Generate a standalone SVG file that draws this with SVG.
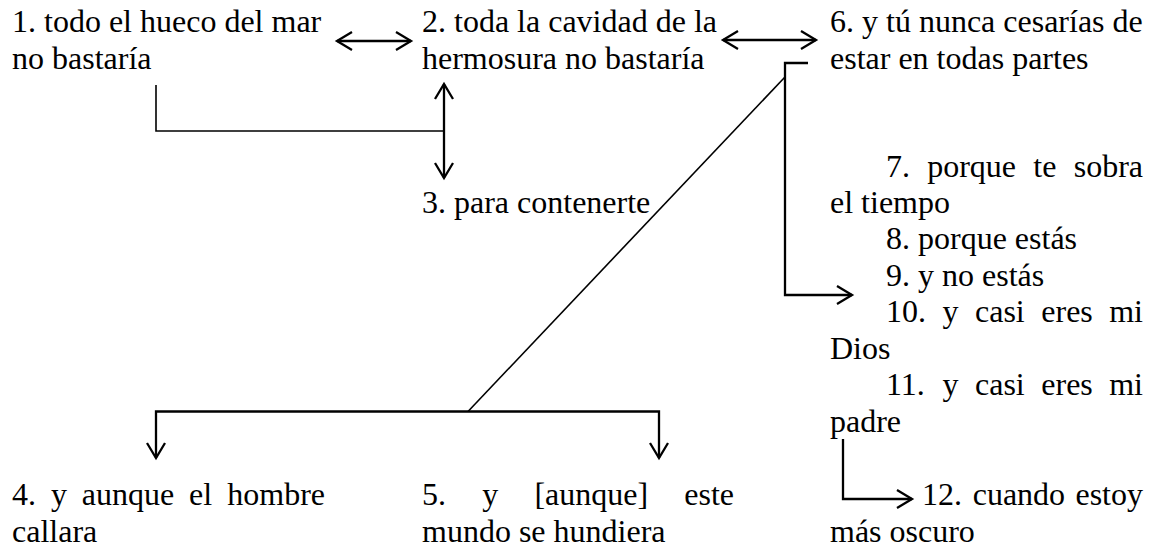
<svg xmlns="http://www.w3.org/2000/svg" width="1155" height="549" viewBox="0 0 1155 549">
<style>
text { font-family: "Liberation Serif", "Times New Roman", serif; font-size: 32px; fill: #000; }
.end { text-anchor: end; }
.thin { fill: none; stroke: #000; stroke-width: 1.6; }
.arr { fill: none; stroke: #000; stroke-width: 2.3; }
</style>
<defs>
<marker id="ah" markerUnits="userSpaceOnUse" markerWidth="22" markerHeight="22" viewBox="0 0 22 22" refX="17" refY="11" orient="auto-start-reverse">
<path d="M2,2 L17,11 L2,20" fill="none" stroke="#000" stroke-width="2.3"/>
</marker>
</defs>
<rect width="1155" height="549" fill="#fff"/>

<g id="n1">
<text x="12" y="32">1. todo el hueco del mar</text>
<text x="12" y="68.5">no bastaría</text>
</g>
<g id="n2">
<text x="422" y="32">2. toda la cavidad de la</text>
<text x="422" y="68.5">hermosura no bastaría</text>
</g>
<g id="n3">
<text x="422" y="213">3. para contenerte</text>
</g>
<g id="n4">
<text x="12" y="505">4.</text><text x="50.9" y="505">y</text><text x="81.8" y="505">aunque</text><text x="189.1" y="505">el</text><text class="end" x="325" y="505">hombre</text>
<text x="12" y="541.5">callara</text>
</g>
<g id="n5">
<text x="422" y="505">5.</text><text x="482.2" y="505">y</text><text x="534.4" y="505">[aunque]</text><text class="end" x="734" y="505">este</text>
<text x="422" y="541.5">mundo se hundiera</text>
</g>
<g id="n6">
<text x="830" y="32">6. y tú nunca cesarías de</text>
<text x="830" y="68.5">estar en todas partes</text>
</g>
<g id="n7-11">
<text x="886" y="176.5">7.</text><text x="927.2" y="176.5">porque</text><text x="1033.3" y="176.5">te</text><text class="end" x="1143" y="176.5">sobra</text>
<text x="830" y="213">el tiempo</text>
<text x="886" y="249">8. porque estás</text>
<text x="886" y="285.5">9. y no estás</text>
<text x="886" y="322">10.</text><text x="942.5" y="322">y</text><text x="975" y="322">casi</text><text x="1041.3" y="322">eres</text><text class="end" x="1143" y="322">mi</text>
<text x="830" y="358.5">Dios</text>
<text x="886" y="395">11.</text><text x="942.5" y="395">y</text><text x="975" y="395">casi</text><text x="1041.3" y="395">eres</text><text class="end" x="1143" y="395">mi</text>
<text x="830" y="431.5">padre</text>
</g>
<g id="n12">
<text x="922" y="505">12.</text><text x="972.7" y="505">cuando</text><text class="end" x="1143" y="505">estoy</text>
<text x="830" y="541.5">más oscuro</text>
</g>

<g id="connectors">
<line class="arr" x1="337" y1="41" x2="411" y2="41" marker-start="url(#ah)" marker-end="url(#ah)"/>
<line class="arr" x1="723" y1="40" x2="816" y2="40" marker-start="url(#ah)" marker-end="url(#ah)"/>
<polyline class="thin" points="156,85 156,131 444,131"/>
<line class="arr" x1="444" y1="84" x2="444" y2="178" marker-start="url(#ah)" marker-end="url(#ah)"/>
<polyline class="arr" points="808,63 785,63 785,295 852,295" marker-end="url(#ah)"/>
<line class="thin" x1="785" y1="77" x2="468" y2="411.5"/>
<polyline class="arr" points="156,458 156,411.5 659,411.5 659,458" marker-start="url(#ah)" marker-end="url(#ah)"/>
<polyline class="arr" points="843,439 843,499 912,499" marker-end="url(#ah)"/>
</g>
</svg>
